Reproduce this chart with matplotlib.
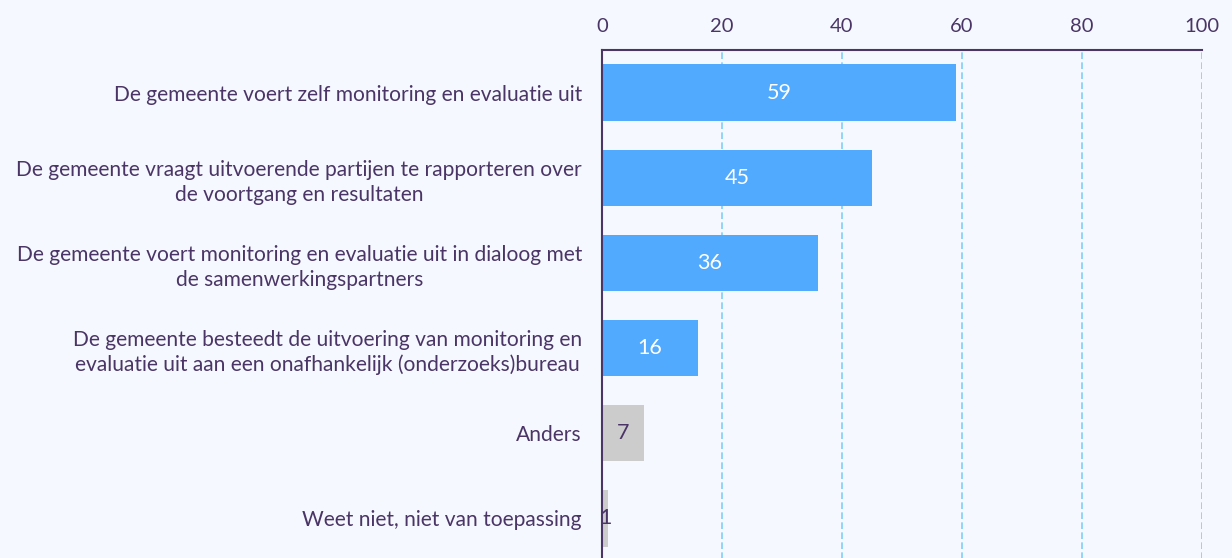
import matplotlib.pyplot as plt

# --- Data ---
categories = [
    "De gemeente voert zelf monitoring en evaluatie uit",
    "De gemeente vraagt uitvoerende partijen te rapporteren over\nde voortgang en resultaten",
    "De gemeente voert monitoring en evaluatie uit in dialoog met\nde samenwerkingspartners",
    "De gemeente besteedt de uitvoering van monitoring en\nevaluatie uit aan een onafhankelijk (onderzoeks)bureau",
    "Anders",
    "Weet niet, niet van toepassing",
]
values = [59, 45, 36, 16, 7, 1]
is_other = [False, False, False, False, True, True]
ticks = [0, 20, 40, 60, 80, 100]

# --- Style ---
bg = "#f5f8fe"
text_col = "#4a3566"
blue = "#52aaff"
grey = "#cccccc"
grid_col = "#80cff8"

plt.rcParams['font.family'] = ['Lato', 'DejaVu Sans']

fig = plt.figure(figsize=(12.32, 5.58), dpi=100, facecolor=bg)
ax = fig.add_axes([602 / 1232, -3 / 558, 600 / 1232, 511 / 558])
ax.set_facecolor(bg)

ypos = list(range(len(values)))
colors = [grey if o else blue for o in is_other]
ax.barh(ypos, values, height=0.66, color=colors, zorder=3)

for y, v, o in zip(ypos, values, is_other):
    ax.text(v / 2, y, str(v), ha='center', va='center', fontsize=15.5,
            color=text_col if o else "white", zorder=4)

ax.set_xlim(0, 100)
ax.set_ylim(len(values) - 0.5, -0.5)
ax.set_xticks(ticks)
ax.xaxis.tick_top()
ax.tick_params(axis='x', length=0, pad=11, labelsize=14.5, labelcolor=text_col)
ax.set_yticks(ypos)
ax.set_yticklabels(categories, multialignment='center', linespacing=1.3)
ax.tick_params(axis='y', length=0, pad=14.4, labelsize=15.1, labelcolor=text_col)

ax.grid(axis='x', color=grid_col, linestyle=(0, (4, 2)), linewidth=1.2, zorder=1)
ax.grid(axis='y', visible=False)

for side in ['right', 'bottom']:
    ax.spines[side].set_visible(False)
for side in ['top', 'left']:
    ax.spines[side].set_color(text_col)
    ax.spines[side].set_linewidth(1.5)
    ax.spines[side].set_zorder(5)

fig.savefig("out.png", dpi=100, facecolor=bg)
